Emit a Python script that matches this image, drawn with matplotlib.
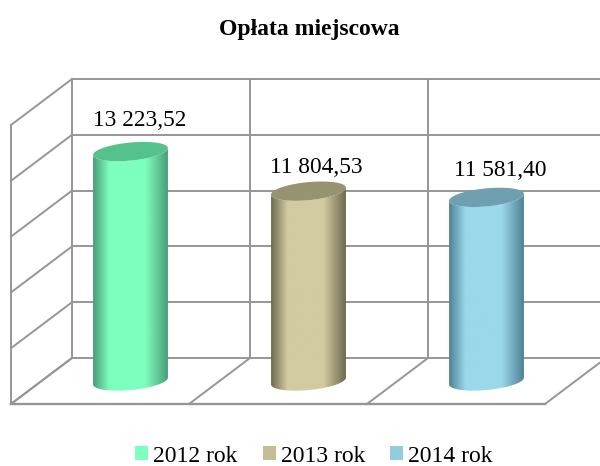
"""Oplata miejscowa: 3D-look cylinder chart drawn on a flat pixel-sized axes."""

import matplotlib

matplotlib.use("Agg")
import matplotlib.pyplot as plt
import numpy as np
from matplotlib.colors import LinearSegmentedColormap
from matplotlib.patches import Polygon, Rectangle

YEARS = ["2012 rok", "2013 rok", "2014 rok"]
VALUES = [13223.52, 11804.53, 11581.40]
VALUE_LABELS = ["13 223,52", "11 804,53", "11 581,40"]
GRID_VALUES = [5000, 7000, 9000, 11000, 13000, 15000]

LEGEND_COLORS = ["#7FFFBF", "#C4BD97", "#92CDDC"]
TOP_COLORS = ["#55C28C", "#97926F", "#6FA0B1"]
MID_COLORS = ["#7DFFBD", "#D2CAA0", "#9AD8EA"]
EDGE_COLORS = ["#4A9C78", "#6E6A50", "#4F8296"]
LABEL_SHIFT = [(9.5, -26), (8, -18.5), (13.5, -21)]

GRID = "#969696"
LW = 1.4
X0, Y0 = 11, 404          # front bottom-left corner of the floor
CELL = 178                # px per category
DX, DY = 61, 46           # depth offset
PX_PER_UNIT = 55.8 / 2000
A, B, TILT = 37.6, 9.0, np.radians(5.5)

plt.rcParams["font.family"] = ["Liberation Serif", "DejaVu Serif"]


def proj(cat, val, depth):
    x = X0 + CELL * cat + DX * depth
    y = Y0 - (val - GRID_VALUES[0]) * PX_PER_UNIT - DY * depth
    return x, y


def ellipse(cx, cy, t):
    x = cx + A * np.cos(t) * np.cos(TILT) + B * np.sin(t) * np.sin(TILT)
    y = cy - A * np.cos(t) * np.sin(TILT) + B * np.sin(t) * np.cos(TILT)
    return x, y


def cylinder(ax, i, val):
    cx, cb = proj(i + 0.5, GRID_VALUES[0], 0.5)
    _, ct = proj(i + 0.5, val, 0.5)
    t0 = np.arctan(B * np.tan(TILT) / A)
    t = np.linspace(t0, t0 + np.pi, 60)
    bx, by = ellipse(cx, cb, t)
    tx, ty = ellipse(cx, ct, t)
    outline = np.vstack([np.c_[bx, by], np.c_[tx[::-1], ty[::-1]]])
    body = Polygon(outline, closed=True, fc="none", ec="none", zorder=3)
    ax.add_patch(body)

    cmap = LinearSegmentedColormap.from_list(
        f"cyl{i}",
        [(0, EDGE_COLORS[i]), (0.22, MID_COLORS[i]), (0.7, MID_COLORS[i]), (1, EDGE_COLORS[i])],
    )
    grad = np.linspace(0, 1, 256).reshape(1, -1)
    im = ax.imshow(
        grad, cmap=cmap, aspect="auto", zorder=3, interpolation="bilinear",
        extent=(outline[:, 0].min(), outline[:, 0].max(), outline[:, 1].max(), outline[:, 1].min()),
    )
    im.set_clip_path(body)

    t = np.linspace(0, 2 * np.pi, 120)
    ex, ey = ellipse(cx, ct, t)
    ax.add_patch(Polygon(np.c_[ex, ey], closed=True, fc=TOP_COLORS[i], ec="none", zorder=4))
    return cx, ct


fig = plt.figure(figsize=(6, 4.66), dpi=100)
ax = fig.add_axes([0, 0, 1, 1])
ax.axis("off")

n = len(VALUES)
# back wall + side wall gridlines
for g in GRID_VALUES:
    ax.plot(*zip(proj(0, g, 1), proj(n, g, 1)), color=GRID, lw=LW, zorder=1)
    ax.plot(*zip(proj(0, g, 0), proj(0, g, 1)), color=GRID, lw=LW, zorder=1)
for i in range(n + 1):
    ax.plot(*zip(proj(i, GRID_VALUES[0], 0), proj(i, GRID_VALUES[0], 1)), color=GRID, lw=LW, zorder=1)
    ax.plot(*zip(proj(i, GRID_VALUES[0], 1), proj(i, GRID_VALUES[-1], 1)), color=GRID, lw=LW, zorder=1)
ax.plot(*zip(proj(0, GRID_VALUES[0], 0), proj(0, GRID_VALUES[-1], 0)), color=GRID, lw=LW, zorder=1)
ax.plot(*zip(proj(0, GRID_VALUES[0], 0), proj(n, GRID_VALUES[0], 0)), color=GRID, lw=LW + 0.3, zorder=1)

for i, val in enumerate(VALUES):
    cx, ct = cylinder(ax, i, val)
    ax.text(cx + LABEL_SHIFT[i][0], ct + LABEL_SHIFT[i][1], VALUE_LABELS[i],
            ha="center", va="baseline", fontsize=16.8, color="black", zorder=5)

ax.set_xlim(0, 600)
ax.set_ylim(466, 0)

fig.text(309 / 600, 1 - 30 / 466, "Opłata miejscowa", ha="center", va="center",
         fontsize=17, fontweight="bold")

handles = [Rectangle((0, 0), 1, 1, fc=c, ec="none") for c in LEGEND_COLORS]
fig.legend(handles, YEARS, ncol=3, loc="center", bbox_to_anchor=(314 / 600, 1 - 456 / 466),
           frameon=False, fontsize=17, handlelength=0.55, handleheight=0.55,
           handletextpad=0.22, columnspacing=1.05, borderpad=0, borderaxespad=0)

fig.savefig("out.png", dpi=100)
